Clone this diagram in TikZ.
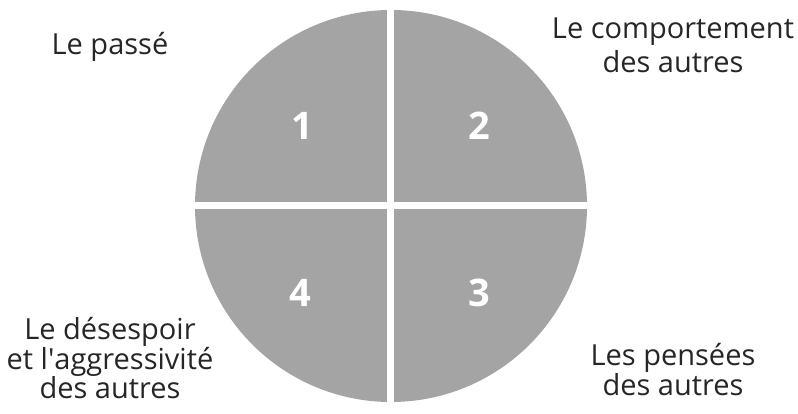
\documentclass[tikz,border=0pt]{standalone}
\usepackage{fontspec}
\setmainfont{Open Sans}
\usetikzlibrary{positioning}

\definecolor{discgray}{HTML}{A4A4A4}
\definecolor{inkgray}{HTML}{262626}

\begin{document}
\begin{tikzpicture}[
    x=1pt, y=-1pt,
    disc/.style={circle, fill=discgray, minimum size=392pt, inner sep=0pt},
    lbl/.style={font=\fontsize{29}{34}\selectfont, text=inkgray, align=center, inner sep=0pt},
    numtext/.style={font=\fontsize{38}{40}\selectfont\bfseries, text=white, inner sep=0pt},
    gap/.style={white, line width=7pt}
]
\useasboundingbox (0,0) rectangle (798,414);

% Define nodes
\node (D) [disc] at (391,206) {};
\node (N1) [numtext] at (302,126) {1};
\node (N2) [numtext] at (479,126) {2};
\node (N3) [numtext] at (479,293) {3};
\node (N4) [numtext] at (300,293) {4};

% Quarter gaps
\draw[gap] (D.north -| 390,0) -- (D.south -| 390,0);
\draw[gap] (D.west) -- (D.east);

% Outer labels
\node (L1) [lbl] at (110,47) {Le passé};
\node (L2) [lbl] at (673,45) {Le comportement\\des autres};
\node (L3) [lbl, font=\fontsize{29}{30}\selectfont] at (673,370) {Les pensées\\des autres};
\node (L4) [lbl, font=\fontsize{29}{29}\selectfont] at (110,358) {Le désespoir\\et l\textquotesingle aggressivité\\des autres};

\end{tikzpicture}
\end{document}
